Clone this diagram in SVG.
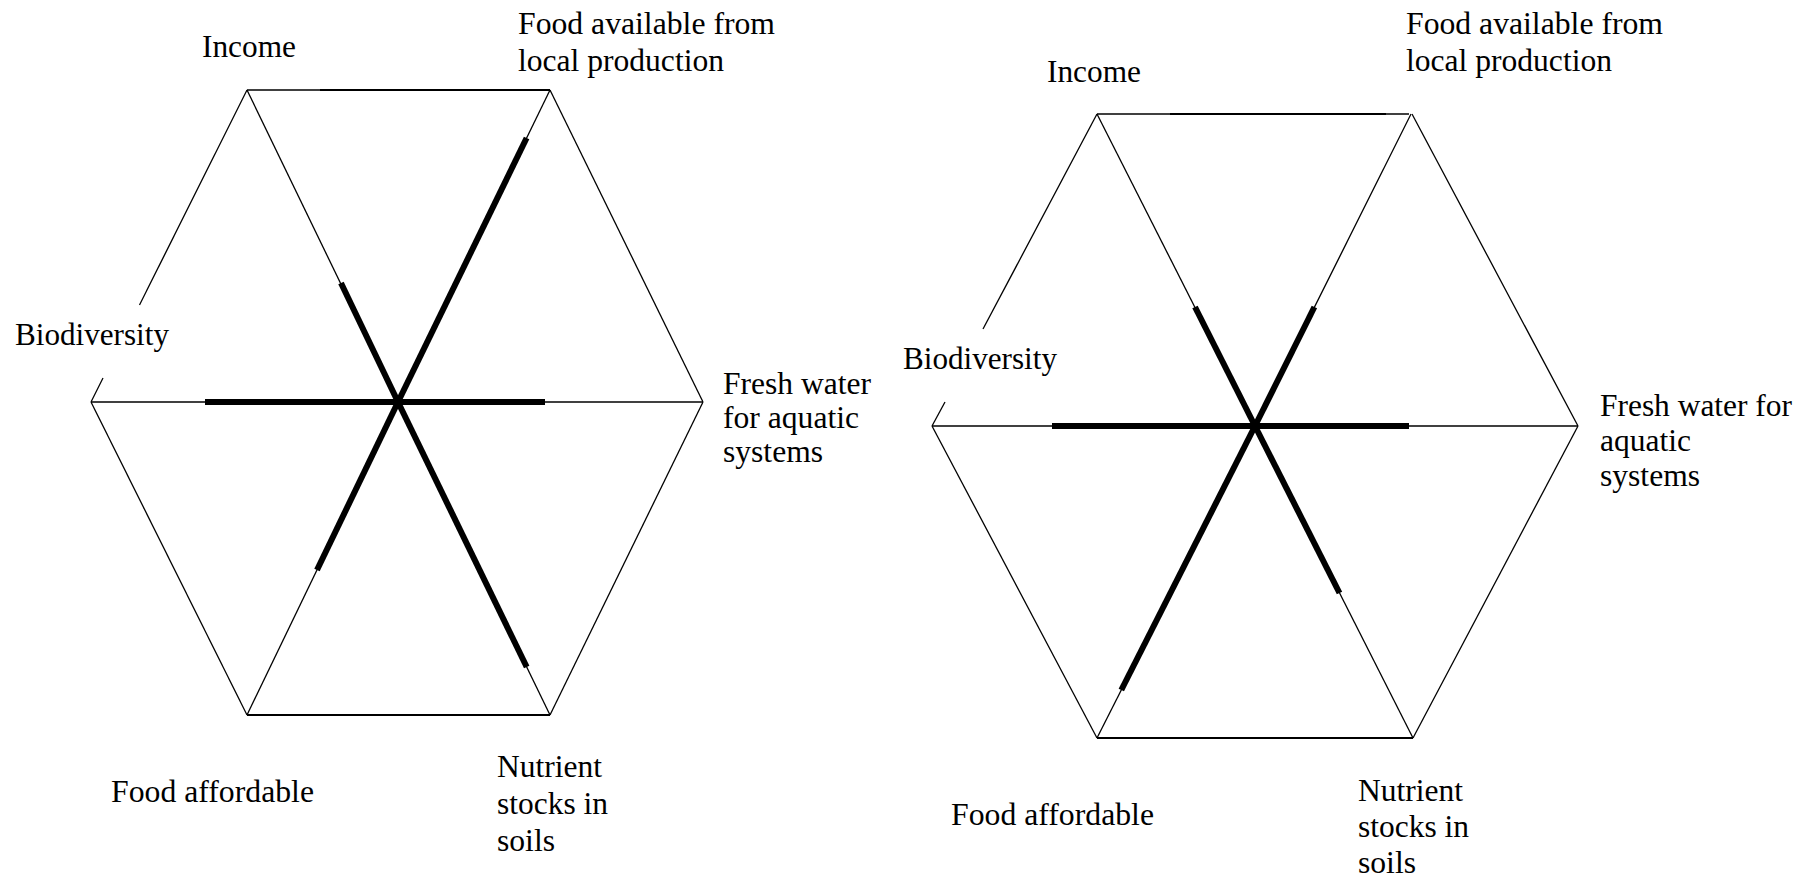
<svg xmlns="http://www.w3.org/2000/svg" width="1809" height="883" viewBox="0 0 1809 883">
<style>
.thin{stroke:#000;stroke-width:1.3;fill:none}
.edge{stroke:#000;stroke-width:1.8;fill:none}
.thick{stroke:#000;stroke-width:6;fill:none;stroke-linecap:butt}
</style>
<rect width="1809" height="883" fill="#fff"/>
<g id="connectors">
  <g id="hex-left">
    <line class="thin" x1="247" y1="90" x2="550" y2="90"/>
    <line class="edge" x1="320" y1="90" x2="550" y2="90"/>
    <line class="thin" x1="550" y1="90" x2="703" y2="402"/>
    <line class="thin" x1="703" y1="402" x2="550" y2="715"/>
    <line class="edge" x1="550" y1="715" x2="247" y2="715"/>
    <line class="thin" x1="247" y1="715" x2="91" y2="402"/>
    <line class="thin" x1="91" y1="402" x2="103" y2="378"/>
    <line class="thin" x1="139.5" y1="305" x2="247" y2="90"/>
    <line class="thin" x1="398" y1="402" x2="247" y2="90"/>
    <line class="thin" x1="398" y1="402" x2="550" y2="90"/>
    <line class="thin" x1="91" y1="402" x2="703" y2="402"/>
    <line class="thin" x1="398" y1="402" x2="247" y2="715"/>
    <line class="thin" x1="398" y1="402" x2="550" y2="715"/>
    <line class="thick" x1="398" y1="402" x2="341" y2="283"/>
    <line class="thick" x1="398" y1="402" x2="526.6" y2="138"/>
    <line class="thick" x1="205" y1="402" x2="545" y2="402"/>
    <line class="thick" x1="398" y1="402" x2="317" y2="570"/>
    <line class="thick" x1="398" y1="402" x2="526.7" y2="667"/>
  </g>
  <g id="hex-right">
    <line class="thin" x1="1097" y1="114" x2="1409" y2="114"/>
    <line class="edge" x1="1170" y1="114" x2="1386" y2="114"/>
    <line class="thin" x1="1412" y1="114" x2="1578" y2="426"/>
    <line class="thin" x1="1578" y1="426" x2="1413" y2="738"/>
    <line class="edge" x1="1413" y1="738" x2="1097" y2="738"/>
    <line class="thin" x1="1097" y1="738" x2="932" y2="426"/>
    <line class="thin" x1="932" y1="426" x2="945" y2="402"/>
    <line class="thin" x1="983" y1="329" x2="1097" y2="114"/>
    <line class="thin" x1="1255" y1="426" x2="1097" y2="114"/>
    <line class="thin" x1="1255" y1="426" x2="1411" y2="114"/>
    <line class="thin" x1="932" y1="426" x2="1578" y2="426"/>
    <line class="thin" x1="1255" y1="426" x2="1097" y2="738"/>
    <line class="thin" x1="1255" y1="426" x2="1413" y2="738"/>
    <line class="thick" x1="1255" y1="426" x2="1195" y2="307"/>
    <line class="thick" x1="1255" y1="426" x2="1314.4" y2="307"/>
    <line class="thick" x1="1052" y1="426" x2="1409" y2="426"/>
    <line class="thick" x1="1255" y1="426" x2="1121.3" y2="690"/>
    <line class="thick" x1="1255" y1="426" x2="1339.5" y2="593"/>
  </g>
</g>
<g id="labels" font-family="Liberation Serif" font-size="31" fill="#000">
<g id="label-income-l"><text x="202" y="57" textLength="94" lengthAdjust="spacingAndGlyphs">Income</text></g>
<g id="label-food-local-l"><text x="518" y="34" textLength="257" lengthAdjust="spacingAndGlyphs">Food available from</text><text x="518" y="71" textLength="206" lengthAdjust="spacingAndGlyphs">local production</text></g>
<g id="label-biodiversity-l"><text x="15" y="345" textLength="154" lengthAdjust="spacingAndGlyphs">Biodiversity</text></g>
<g id="label-freshwater-l"><text x="723" y="394" textLength="148" lengthAdjust="spacingAndGlyphs">Fresh water</text><text x="723" y="428" textLength="136" lengthAdjust="spacingAndGlyphs">for aquatic</text><text x="723" y="462" textLength="100" lengthAdjust="spacingAndGlyphs">systems</text></g>
<g id="label-nutrient-l"><text x="497" y="777" textLength="105" lengthAdjust="spacingAndGlyphs">Nutrient</text><text x="497" y="814" textLength="111" lengthAdjust="spacingAndGlyphs">stocks in</text><text x="497" y="851" textLength="58" lengthAdjust="spacingAndGlyphs">soils</text></g>
<g id="label-affordable-l"><text x="111" y="802" textLength="203" lengthAdjust="spacingAndGlyphs">Food affordable</text></g>
<g id="label-income-r"><text x="1047" y="82" textLength="94" lengthAdjust="spacingAndGlyphs">Income</text></g>
<g id="label-food-local-r"><text x="1406" y="34" textLength="257" lengthAdjust="spacingAndGlyphs">Food available from</text><text x="1406" y="71" textLength="206" lengthAdjust="spacingAndGlyphs">local production</text></g>
<g id="label-biodiversity-r"><text x="903" y="369" textLength="154" lengthAdjust="spacingAndGlyphs">Biodiversity</text></g>
<g id="label-freshwater-r"><text x="1600" y="416" textLength="192" lengthAdjust="spacingAndGlyphs">Fresh water for</text><text x="1600" y="451" textLength="91" lengthAdjust="spacingAndGlyphs">aquatic</text><text x="1600" y="486" textLength="100" lengthAdjust="spacingAndGlyphs">systems</text></g>
<g id="label-nutrient-r"><text x="1358" y="801" textLength="105" lengthAdjust="spacingAndGlyphs">Nutrient</text><text x="1358" y="837" textLength="111" lengthAdjust="spacingAndGlyphs">stocks in</text><text x="1358" y="873" textLength="58" lengthAdjust="spacingAndGlyphs">soils</text></g>
<g id="label-affordable-r"><text x="951" y="825" textLength="203" lengthAdjust="spacingAndGlyphs">Food affordable</text></g>
</g>
</svg>
